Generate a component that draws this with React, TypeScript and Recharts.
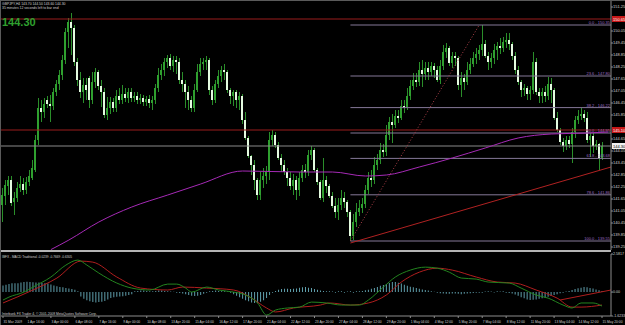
import React from "react";
import { ComposedChart, Bar, Line, XAxis, YAxis, ReferenceLine } from "recharts";

// GBPJPY H4 candles: [open, high, low, close]
const ohlc: [number, number, number, number][] = [
  [141.35, 142.2, 140.5, 141.85], [141.8, 142.6, 141.35, 142.35], [142.3, 142.8, 141.85, 142.6], [142.6, 142.8, 141.3, 141.45],
  [141.5, 142.0, 140.85, 141.7], [141.7, 142.5, 141.5, 142.2], [142.2, 142.8, 142.0, 142.4], [142.4, 142.7, 141.85, 142.1],
  [142.1, 142.75, 141.9, 142.5], [142.5, 143.1, 142.3, 142.8], [142.7, 143.6, 142.6, 143.2], [143.1, 144.85, 143.0, 144.6],
  [144.6, 146.7, 144.35, 146.2], [146.2, 146.6, 145.5, 146.0], [146.0, 146.7, 145.7, 146.4], [146.6, 146.8, 146.2, 146.4],
  [146.4, 146.85, 145.5, 146.3], [146.3, 147.2, 146.1, 147.0], [147.0, 147.6, 146.8, 147.4], [147.4, 148.1, 147.1, 147.85],
  [147.85, 148.85, 147.6, 148.6], [148.6, 150.2, 148.4, 150.0], [150.0, 150.7, 149.2, 150.5], [150.5, 150.95, 148.85, 150.2],
  [150.2, 150.35, 148.3, 148.5], [148.5, 148.7, 147.3, 147.6], [147.6, 148.0, 146.7, 147.0], [147.0, 147.7, 146.45, 147.35],
  [147.35, 147.7, 146.6, 147.1], [147.7, 147.8, 146.2, 146.6], [146.6, 148.0, 146.4, 147.5], [147.5, 148.2, 147.2, 148.0],
  [148.0, 148.1, 147.1, 147.3], [147.3, 147.6, 146.25, 147.0], [147.0, 147.2, 145.7, 145.85], [145.85, 146.75, 145.6, 146.2],
  [146.2, 146.75, 145.9, 146.5], [146.5, 146.7, 146.0, 146.2], [146.2, 147.1, 146.0, 146.8], [146.8, 147.2, 146.4, 146.6],
  [146.6, 147.35, 146.4, 146.9], [146.9, 147.2, 146.5, 146.7], [146.7, 147.2, 146.45, 147.0], [147.0, 147.2, 146.5, 146.7],
  [146.7, 147.0, 146.5, 146.8], [146.8, 147.0, 146.4, 146.6], [146.6, 146.9, 146.4, 146.7], [146.7, 146.85, 146.3, 146.5],
  [146.5, 146.8, 146.3, 146.65], [146.65, 146.85, 146.2, 146.45], [146.45, 146.8, 146.1, 146.6], [146.6, 147.4, 146.4, 147.2],
  [147.2, 148.2, 147.0, 147.85], [147.85, 148.4, 147.6, 148.1], [148.1, 148.7, 147.8, 148.5], [148.5, 148.85, 148.2, 148.7],
  [148.7, 148.9, 148.1, 148.3], [148.3, 148.8, 148.0, 148.6], [148.6, 148.8, 147.9, 148.5], [148.5, 148.7, 147.4, 147.6],
  [147.6, 148.0, 147.0, 147.4], [147.4, 147.6, 146.2, 147.0], [147.0, 147.3, 146.1, 146.6], [146.6, 146.8, 146.0, 146.2],
  [146.2, 147.4, 146.0, 147.1], [147.1, 148.4, 147.0, 148.0], [148.0, 148.7, 147.8, 148.4], [148.4, 148.7, 148.1, 148.5],
  [148.5, 148.8, 148.1, 148.6], [148.6, 148.7, 146.85, 147.1], [147.1, 147.3, 146.35, 146.6], [146.6, 147.6, 146.45, 147.4],
  [147.4, 148.1, 147.2, 147.8], [147.8, 148.3, 147.5, 148.1], [148.1, 148.4, 147.6, 148.0], [148.0, 148.1, 146.95, 147.1],
  [147.1, 147.2, 146.4, 146.8], [146.8, 147.1, 146.3, 147.0], [147.0, 147.1, 146.2, 146.6], [146.6, 147.0, 146.1, 146.8],
  [146.8, 146.9, 145.4, 145.6], [145.6, 146.0, 144.6, 144.7], [144.7, 144.8, 143.7, 143.8], [143.8, 143.85, 142.85, 143.35],
  [143.35, 143.6, 142.1, 142.6], [142.6, 142.7, 141.6, 141.85], [141.85, 143.0, 141.6, 142.6], [142.6, 143.2, 142.2, 142.8],
  [142.8, 143.3, 142.4, 143.0], [143.0, 145.0, 142.6, 144.6], [144.6, 145.1, 144.3, 144.85], [144.85, 145.0, 144.2, 144.35],
  [144.35, 144.5, 143.6, 143.7], [143.7, 143.9, 143.0, 143.35], [143.35, 143.6, 142.85, 143.0], [143.0, 143.2, 142.3, 142.7],
  [142.7, 143.0, 142.1, 142.3], [142.3, 142.9, 141.85, 142.6], [142.6, 142.8, 141.6, 142.1], [142.1, 143.0, 141.8, 142.7],
  [142.7, 143.35, 142.5, 143.1], [143.1, 143.4, 142.7, 143.0], [143.0, 144.1, 142.8, 143.85], [143.85, 144.3, 143.6, 144.1],
  [144.1, 144.2, 143.0, 143.1], [143.1, 143.2, 142.35, 142.5], [142.5, 142.6, 141.6, 141.7], [141.7, 143.7, 141.5, 142.6],
  [142.6, 142.8, 141.95, 142.3], [142.3, 142.4, 141.7, 141.8], [141.8, 142.0, 141.2, 141.3], [141.3, 141.7, 140.7, 141.0],
  [141.0, 141.7, 140.6, 141.35], [141.35, 142.1, 141.1, 141.7], [141.7, 142.0, 141.2, 141.5], [141.5, 141.6, 140.75, 141.0],
  [141.0, 141.1, 139.55, 139.8], [139.8, 140.9, 139.6, 140.5], [140.5, 141.45, 140.25, 141.0], [141.0, 141.6, 140.8, 141.2],
  [141.2, 141.7, 140.95, 141.4], [141.4, 142.35, 141.2, 142.1], [142.1, 143.0, 141.9, 142.7], [142.7, 143.1, 142.25, 142.6],
  [142.6, 143.75, 142.4, 143.35], [143.35, 143.9, 143.1, 143.6], [143.6, 144.45, 143.4, 144.1], [144.1, 144.4, 143.75, 144.0],
  [144.0, 145.35, 143.8, 144.85], [144.85, 145.75, 144.6, 145.5], [145.5, 145.9, 144.45, 145.35], [145.35, 146.1, 145.2, 145.8],
  [145.8, 146.1, 145.45, 145.7], [145.7, 146.6, 145.6, 146.3], [146.3, 146.6, 145.95, 146.2], [146.2, 147.2, 146.1, 146.8],
  [146.8, 147.6, 146.6, 147.3], [147.3, 147.95, 147.1, 147.6], [147.6, 147.95, 147.25, 147.5], [147.5, 148.5, 147.3, 148.1],
  [148.1, 148.6, 147.25, 147.9], [147.9, 148.5, 147.6, 148.2], [148.2, 148.5, 147.6, 148.0], [148.0, 148.5, 147.8, 148.3],
  [148.3, 148.45, 147.7, 148.1], [148.1, 148.3, 147.5, 147.6], [147.6, 148.6, 147.4, 148.3], [148.3, 149.35, 148.1, 149.0],
  [149.0, 149.45, 148.7, 149.2], [149.2, 149.3, 148.3, 148.45], [148.45, 149.0, 148.2, 148.8], [148.8, 149.0, 148.3, 148.7],
  [148.7, 148.8, 147.1, 147.35], [147.35, 148.0, 146.75, 147.7], [147.7, 147.9, 147.1, 147.5], [147.5, 148.5, 147.35, 148.1],
  [148.1, 148.7, 147.9, 148.4], [148.4, 149.0, 148.25, 148.7], [148.7, 149.2, 148.4, 148.9], [148.9, 149.35, 148.6, 149.1],
  [149.1, 150.35, 148.8, 149.4], [149.4, 149.6, 148.7, 148.8], [148.8, 149.0, 148.1, 148.5], [148.5, 148.95, 148.2, 148.7],
  [148.7, 149.4, 148.4, 149.1], [149.1, 149.5, 148.6, 149.3], [149.3, 149.7, 148.9, 149.2], [149.2, 149.75, 149.0, 149.5],
  [149.5, 149.95, 149.2, 149.6], [149.6, 149.95, 149.1, 149.4], [149.4, 149.5, 148.6, 148.8], [148.8, 149.0, 147.9, 148.1],
  [148.1, 148.3, 147.35, 147.5], [147.5, 147.6, 146.75, 147.1], [147.1, 147.4, 146.8, 147.2], [147.2, 147.3, 146.6, 146.9],
  [146.9, 147.3, 146.6, 147.1], [147.1, 149.0, 146.9, 148.5], [148.5, 148.7, 146.85, 147.0], [147.0, 147.2, 146.45, 146.8],
  [146.8, 147.2, 146.45, 147.0], [147.0, 147.3, 146.5, 146.8], [146.8, 147.75, 146.6, 147.4], [147.4, 147.7, 146.45, 147.1],
  [147.1, 147.2, 145.6, 145.7], [145.7, 146.0, 145.0, 145.1], [145.1, 145.2, 144.35, 144.5], [144.5, 144.7, 144.0, 144.3],
  [144.3, 144.8, 144.1, 144.6], [144.6, 144.8, 144.2, 144.4], [144.4, 145.2, 143.45, 145.0], [145.0, 145.8, 144.7, 145.6],
  [145.6, 146.1, 145.4, 145.8], [145.8, 146.2, 145.6, 145.9], [145.9, 146.1, 145.5, 145.7], [145.7, 146.0, 144.45, 144.6],
  [144.6, 144.95, 143.75, 144.8], [144.8, 144.95, 143.95, 144.3], [144.3, 144.6, 144.1, 144.4], [144.4, 144.45, 143.1, 143.7],
  [143.7, 144.5, 143.6, 144.3],
];

// moving average (bar index, price)
const maPts: [number, number][] = [
  [16, 139.12], [22, 139.6], [32, 140.5], [43, 141.25], [55, 141.85], [66, 142.4], [80, 143.05], [99, 143.0],
  [110, 143.0], [121, 142.8], [128, 142.85], [139, 143.25], [150, 143.7], [161, 144.2], [172, 144.7], [183, 144.9],
  [195, 144.95], [202, 145.0],
];

const fibNames = ["0.0", "23.6", "38.2", "50.0", "61.8", "78.6", "100.0"];
const fibLevels = [150.35, 147.8, 146.22, 144.95, 143.68, 141.86, 139.55];
const fibStart = 116;
const fibRay: [number, number][] = [[116, 139.55], [159, 150.35]];
const trendLine: [number, number][] = [[116, 139.45], [203, 143.25]];
const redLevels = [150.65, 145.1];
const bidPrice = 144.3;

const priceTicks = [
  151.25, 150.05, 149.45, 148.85, 148.25, 147.65, 147.05, 146.45, 145.85, 144.65, 144.05, 143.45, 142.85,
  142.25, 141.65, 141.05, 140.45, 139.85, 139.25,
];

const timeLabels = [
  "31 Mar 2009", "1 Apr 16:00", "3 Apr 00:00", "6 Apr 08:00", "7 Apr 16:00", "9 Apr 00:00", "10 Apr 08:00",
  "13 Apr 20:00", "15 Apr 04:00", "16 Apr 12:00", "17 Apr 20:00", "21 Apr 04:00", "22 Apr 12:00", "23 Apr 20:00",
  "27 Apr 04:00", "28 Apr 12:00", "29 Apr 20:00", "1 May 04:00", "4 May 12:00", "5 May 20:00", "7 May 04:00",
  "8 May 12:00", "11 May 20:00", "13 May 04:00", "14 May 12:00", "15 May 20:00",
];

// MACD pane
const macdPts: [number, number][] = [
  [0, -0.54], [2, -0.34], [7, 0], [10, 0.34], [16, 1.02], [21, 1.83], [25, 2.17], [28, 1.83], [32, 1.29],
  [38, 0.61], [43, 0.27], [49, 0.14], [55, 0.54], [58, 0.54], [61, 0.27], [63, 0], [68, 0.34], [72, 0.14],
  [77, 0], [81, -0.2], [85, -0.74], [88, -1.56], [91, -1.22], [95, -1.08], [99, -1.02], [103, -0.68],
  [108, -0.74], [113, -0.88], [119, -0.88], [122, -0.54], [127, 0.34], [131, 1.02], [136, 1.49], [141, 1.69],
  [145, 1.62], [149, 1.35], [153, 0.95], [158, 0.88], [162, 0.68], [169, 0.61], [173, 0.27], [178, -0.2],
  [182, -0.41], [187, -0.88], [190, -1.08], [193, -0.74], [197, -0.74], [200, -0.95],
];
const signalPts: [number, number][] = [
  [0, -0.74], [10, 0.14], [18, 0.95], [26, 2.1], [30, 2.03], [38, 1.02], [46, 0.27], [55, 0.14], [60, 0.34],
  [68, 0.27], [77, 0.14], [83, -0.41], [88, -1.08], [91, -1.35], [97, -1.08], [106, -0.88], [109, -0.74],
  [116, -0.88], [122, -0.74], [128, -0.2], [133, 0.68], [139, 1.35], [145, 1.62], [150, 1.49], [158, 1.02],
  [165, 0.68], [171, 0.61], [178, 0.14], [185, -0.41], [190, -1.02], [193, -1.02], [200, -0.88],
];
const histVals = [
  0.45, 0.5, 0.55, 0.6, 0.6, 0.6, 0.65, 0.68, 0.7, 0.68, 0.66, 0.65, 0.65, 0.62, 0.6, 0.58, 0.52, 0.45,
  0.4, 0.35, 0.32, 0.28, 0.24, 0.2, 0.15, 0.05, -0.3, -0.45, -0.55, -0.62, -0.68, -0.7, -0.68, -0.65, -0.6, -0.5,
  -0.4, -0.35, -0.32, -0.3, -0.28, -0.25, -0.2, -0.15, 0.05, 0.08, 0.1, 0.1, 0.08, 0.06, 0.05, 0.08, 0.1, 0.1,
  0.08, 0.06, 0.04, 0.02, -0.04, -0.06, -0.1, -0.15, -0.2, -0.25, -0.27, -0.25, -0.2, -0.12, -0.05, 0.05, 0.08,
  0.1, 0.08, 0.06, 0.05, 0.03, -0.05, -0.15, -0.25, -0.35, -0.45, -0.55, -0.62, -0.7, -0.74, -0.72, -0.65, -0.55,
  -0.4, -0.2, -0.05, 0.08, 0.15, 0.2, 0.22, 0.22, 0.2, 0.22, 0.25, 0.3, 0.32, 0.34, 0.3, 0.27, 0.2, 0.15, 0.1,
  0.08, 0.06, 0.05, 0.04, -0.04, 0.05, 0.06, -0.05, 0.04, 0.05, -0.04, 0.05, 0.06, 0.08, 0.12, 0.16, 0.22, 0.28,
  0.35, 0.42, 0.48, 0.55, 0.62, 0.68, 0.68, 0.64, 0.58, 0.5, 0.42, 0.36, 0.32, 0.28, 0.22, 0.18, 0.14, 0.1, 0.05,
  0.02, -0.05, -0.08, -0.1, -0.12, -0.12, -0.1, -0.1, -0.12, -0.14, -0.12, -0.1, -0.08, -0.06, -0.05, -0.04,
  -0.04, 0.04, 0.05, 0.04, -0.03, 0.05, 0.04, 0.06, -0.04, -0.06, -0.1, -0.16, -0.25, -0.35, -0.42, -0.5, -0.54,
  -0.52, -0.5, -0.46, -0.42, -0.38, -0.32, -0.26, -0.2, -0.14, -0.08, -0.04, 0.04, 0.08, 0.14, 0.2, 0.26, 0.3,
  0.34, 0.32, 0.28, 0.24, 0.18, 0.12, 0.08,
];
const macdTrend: [number, number][] = [[186, -0.54], [203, 0.14]];
const macdTicks = [2.5817, 0, -1.6233];

const W = 625;
const PLOT_W = 611;
const X_DOMAIN: [number, number] = [-1, 203];
const FONT = "Liberation Sans, Arial, sans-serif";
const AXIS = "#8c8c8c";
const LBL = "#d0d0d0";

const candleRows = ohlc.map(([o, h, l, c], i) => ({ i, o, h, l, c }));
const toRows = (pts: [number, number][]) => pts.map(([i, v]) => ({ i, v }));
const histRows = histVals.map((h, i) => ({ i, h }));

function Candle(props: any) {
  const { x, y, width, height, payload } = props;
  if (x == null || !payload) return null;
  const { o, h, l, c } = payload;
  const top = Math.min(y, y + height);
  const span = Math.abs(height);
  const k = h > l ? span / (h - l) : 0;
  const cx = Math.round(x + width / 2);
  const yo = top + (h - o) * k;
  const yc = top + (h - c) * k;
  const bTop = Math.round(Math.min(yo, yc));
  const bH = Math.max(1, Math.round(Math.abs(yo - yc)));
  const bull = c >= o;
  return (
    <g>
      <rect x={cx} y={Math.round(top)} width={1} height={Math.max(1, Math.round(span))} fill="#2a8e2a" />
      <rect x={cx - 1} y={bTop} width={2} height={bH} fill={bull ? "#2fa02f" : "#e4fbe0"} />
    </g>
  );
}

const tag = (value: number, bg: string, fg: string) => (p: any) => {
  const vb = p.viewBox || {};
  const x = (vb.x ?? 0) + (vb.width ?? 0) + 1;
  const y = vb.y ?? 0;
  return (
    <g>
      <rect x={x} y={y - 3} width={14} height={6} fill={bg} />
      <text x={x + 1} y={y + 1.6} fontSize={4} fill={fg} fontFamily={FONT}>
        {value.toFixed(2)}
      </text>
    </g>
  );
};

function TimeTick(props: any) {
  const { x, y, payload } = props;
  const label = timeLabels[Math.round(payload.value / 8)];
  return (
    <g>
      <line x1={x} x2={x} y1={y} y2={y + 2} stroke={AXIS} />
      <text x={x + 0.5} y={y + 6.5} fontSize={3.3} fill={LBL} fontFamily={FONT}>
        {label}
      </text>
    </g>
  );
}

export default function App() {
  return (
    <div style={{ position: "absolute", left: 0, top: 0, width: W, height: 325, background: "#000", overflow: "hidden" }}>
      <div style={{ position: "absolute", left: 0, top: 0 }}>
        <ComposedChart width={W} height={250} data={candleRows} margin={{ top: 0, right: 0, bottom: 0, left: 0 }}>
          <XAxis type="number" dataKey="i" domain={X_DOMAIN} allowDataOverflow hide />
          <YAxis
            orientation="right"
            domain={[139.1, 151.6]}
            allowDataOverflow
            ticks={priceTicks}
            interval={0}
            width={14}
            tickSize={2}
            tickMargin={0}
            tick={{ fontSize: 4, fill: LBL, fontFamily: FONT }}
            tickFormatter={(v: number) => v.toFixed(2)}
            axisLine={{ stroke: AXIS }}
            tickLine={{ stroke: AXIS }}
          />
          {redLevels.map((lv) => (
            <ReferenceLine key={`r${lv}`} y={lv} stroke="#9a1c1c" label={tag(lv, "#c81818", "#fff")} />
          ))}
          <ReferenceLine y={bidPrice} stroke="#8a8a8a" label={tag(bidPrice, "#f0f0f0", "#000")} />
          {fibLevels.map((lv, k) => (
            <ReferenceLine
              key={`f${k}`}
              segment={[{ x: fibStart, y: lv }, { x: X_DOMAIN[1], y: lv }]}
              stroke="#857898"
              label={{
                value: `${fibNames[k]} - ${lv.toFixed(2)}`,
                position: "insideBottomRight",
                offset: 1,
                fontSize: 4,
                fill: "#9d6cc0",
                fontFamily: FONT,
              }}
            />
          ))}
          <ReferenceLine
            segment={[{ x: fibRay[0][0], y: fibRay[0][1] }, { x: fibRay[1][0], y: fibRay[1][1] }]}
            stroke="#b0404a"
            strokeDasharray="1 2"
          />
          <ReferenceLine
            segment={[{ x: trendLine[0][0], y: trendLine[0][1] }, { x: trendLine[1][0], y: trendLine[1][1] }]}
            stroke="#b02222"
          />
          <Line
            data={toRows(maPts)}
            dataKey="v"
            type="monotone"
            stroke="#a62ab6"
            strokeWidth={1}
            dot={false}
            activeDot={false}
            isAnimationActive={false}
          />
          <Bar dataKey={(d: any) => [d.l, d.h]} barSize={2} shape={<Candle />} isAnimationActive={false} />
        </ComposedChart>
      </div>

      <div style={{ position: "absolute", left: 0, top: 250, width: PLOT_W, height: 2, background: "#b4b4b4" }} />

      <div style={{ position: "absolute", left: 0, top: 252 }}>
        <ComposedChart width={W} height={73} data={histRows} margin={{ top: 2, right: 0, bottom: 0, left: 0 }}>
          <XAxis
            type="number"
            dataKey="i"
            domain={X_DOMAIN}
            allowDataOverflow
            ticks={timeLabels.map((_, k) => k * 8)}
            interval={0}
            height={9}
            tickSize={0}
            tickMargin={0}
            tick={<TimeTick />}
            axisLine={{ stroke: AXIS }}
            tickLine={false}
          />
          <YAxis
            orientation="right"
            domain={[-1.6233, 2.5817]}
            allowDataOverflow
            ticks={macdTicks}
            interval={0}
            width={14}
            tickSize={2}
            tickMargin={0}
            tick={{ fontSize: 3.6, fill: LBL, fontFamily: FONT }}
            tickFormatter={(v: number) => (v === 0 ? "0.00" : v.toFixed(4))}
            axisLine={{ stroke: AXIS }}
            tickLine={{ stroke: AXIS }}
          />
          <Bar dataKey="h" barSize={1} fill="#5f9eab" isAnimationActive={false} />
          <Line data={toRows(signalPts)} dataKey="v" type="monotone" stroke="#b01e1e" dot={false} activeDot={false} isAnimationActive={false} />
          <Line data={toRows(macdPts)} dataKey="v" type="monotone" stroke="#23841f" dot={false} activeDot={false} isAnimationActive={false} />
          <ReferenceLine
            segment={[{ x: macdTrend[0][0], y: macdTrend[0][1] }, { x: macdTrend[1][0], y: macdTrend[1][1] }]}
            stroke="#b01e1e"
          />
        </ComposedChart>
      </div>

      <svg width={W} height={325} style={{ position: "absolute", left: 0, top: 0, pointerEvents: "none" }}>
        <line x1={0} x2={W} y1={0.5} y2={0.5} stroke="#5a5a5a" />
        <line x1={0.5} x2={0.5} y1={0} y2={325} stroke="#5a5a5a" />
        <text x={2} y={4.5} fontSize={3.4} fill={LBL} fontFamily={FONT}>
          GBPJPY,H4 143.70 144.50 143.60 144.30
        </text>
        <text x={2} y={8.8} fontSize={3.4} fill={LBL} fontFamily={FONT}>
          35 minutes 12 seconds left to bar end
        </text>
        <text x={2} y={26} fontSize={11} fontWeight="bold" fill="#2fa02f" fontFamily={FONT}>
          144.30
        </text>
        <text x={2} y={257.5} fontSize={3.2} fill={LBL} fontFamily={FONT}>
          IBFX - MACD Traditional -0.0239 -0.7669 -0.6305
        </text>
        <text x={2} y={315} fontSize={3.3} fill={LBL} fontFamily={FONT}>
          Interbank FX Trader 4, © 2001-2008 MetaQuotes Software Corp.
        </text>
      </svg>
    </div>
  );
}
